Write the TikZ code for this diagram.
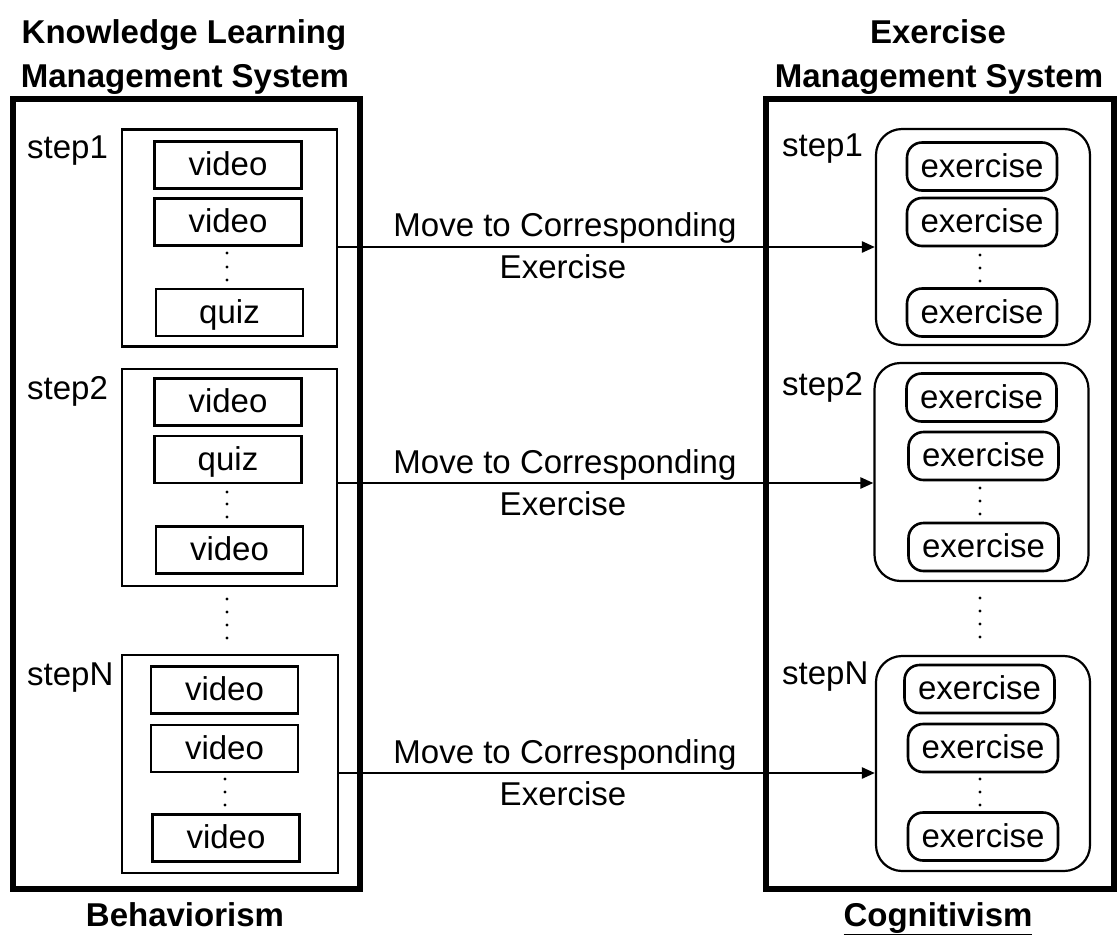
\documentclass[tikz,border=0pt]{standalone}
\usepackage{fontspec}
\setmainfont{Liberation Sans}
\usetikzlibrary{arrows.meta}
\begin{document}
\begin{tikzpicture}[x=1pt,y=-1pt,
  every node/.style={font=\fontsize{33}{40}\selectfont, inner sep=0pt},
  txt/.style={anchor=base},
  ttl/.style={anchor=base, font=\fontsize{33}{40}\selectfont\bfseries},
  outerbox/.style={draw, line width=6pt},
  stepbox/.style={draw, line width=2.2pt, minimum width=215pt, minimum height=217pt},
  rstepbox/.style={draw, line width=2.2pt, rounded corners=26pt, minimum width=214pt, minimum height=216pt},
  item/.style={draw, line width=2.8pt, minimum width=147pt, minimum height=47pt, text height=27pt, text depth=6pt},
  ritem/.style={draw, line width=2.6pt, rounded corners=15pt, minimum width=150pt, minimum height=48pt, text height=27pt, text depth=6pt},
  arr/.style={line width=2.4pt, -{Triangle[length=13pt,width=11pt]}}
]
\useasboundingbox (0,0) rectangle (1118,943);

% titles
\node[ttl] (t1) at (184,43) {Knowledge Learning};
\node[ttl] (t2) at (185,87) {Management System};
\node[ttl] (t3) at (938,43) {Exercise};
\node[ttl] (t4) at (939,87) {Management System};

% outer boxes
\node[outerbox, minimum width=347.5pt, minimum height=790pt] (L) at (186.25,494) {};
\node[outerbox, minimum width=348pt, minimum height=790pt] (R) at (940,494) {};

% left step labels
\node[txt, anchor=base west] (ls1) at (27,158) {step1};
\node[txt, anchor=base west] (ls2) at (27,399) {step2};
\node[txt, anchor=base west] (lsn) at (27,685) {stepN};

% left step boxes
\node[stepbox] (S1) at (229.5,238) {};
\node[stepbox] (S2) at (229.5,477.5) {};
\node[stepbox, minimum width=216pt, minimum height=218pt] (SN) at (230,764) {};

\node[item] (s1a) at (228,165) {video};
\node[item] (s1b) at (228,222) {video};
\node[item] (s1c) at (229.5,312.5) {quiz};
\foreach \y in {253,267,280} \fill (227,\y) circle (1.6pt);

\node[item] (s2a) at (228,402) {video};
\node[item] (s2b) at (228,459.5) {quiz};
\node[item] (s2c) at (229.5,550) {video};
\foreach \y in {492,504,517} \fill (227,\y) circle (1.6pt);

\foreach \y in {599,612,625,638} \fill (227,\y) circle (1.6pt);

\node[item] (sna) at (224.5,690) {video};
\node[item] (snb) at (224.5,748.5) {video};
\node[item] (snc) at (226,838) {video};
\foreach \y in {779,792,805} \fill (225,\y) circle (1.6pt);

% right step labels
\node[txt, anchor=base west] (rs1) at (782,156) {step1};
\node[txt, anchor=base west] (rs2) at (782,395) {step2};
\node[txt, anchor=base west] (rsn) at (782,684) {stepN};

% right step boxes
\node[rstepbox] (R1) at (983,237) {};
\node[rstepbox, minimum height=218pt] (R2) at (981.5,472) {};
\node[rstepbox, minimum height=215pt] (RN) at (983,763.5) {};

\node[ritem] (r1a) at (982,166.5) {exercise};
\node[ritem] (r1b) at (982,222) {exercise};
\node[ritem] (r1c) at (982,312.5) {exercise};
\foreach \y in {255,268,281} \fill (980,\y) circle (1.6pt);

\node[ritem] (r2a) at (981.5,397.5) {exercise};
\node[ritem] (r2b) at (983.5,456) {exercise};
\node[ritem] (r2c) at (983.5,547) {exercise};
\foreach \y in {488,501,514} \fill (980,\y) circle (1.6pt);

\foreach \y in {598,611,624,637} \fill (980,\y) circle (1.6pt);

\node[ritem] (rna) at (979.5,689) {exercise};
\node[ritem] (rnb) at (983,748) {exercise};
\node[ritem] (rnc) at (983,836.5) {exercise};
\foreach \y in {779,792,805} \fill (980,\y) circle (1.6pt);

% arrows
\draw[arr] ([yshift=-9pt]S1.east) -- ([yshift=-10pt]R1.west);
\draw[arr] ([yshift=-5.5pt]S2.east) -- ([yshift=-11pt]R2.west);
\draw[arr] ([yshift=-9pt]SN.east) -- ([yshift=-9.5pt]RN.west);

\node[txt] (m1a) at (565,236) {Move to Corresponding};
\node[txt] (m1b) at (563,278) {Exercise};
\node[txt] (m2a) at (565,473) {Move to Corresponding};
\node[txt] (m2b) at (563,515) {Exercise};
\node[txt] (m3a) at (565,763) {Move to Corresponding};
\node[txt] (m3b) at (563,805) {Exercise};

% bottom labels
\node[ttl] (b1) at (185,926) {Behaviorism};
\node[ttl] (b2) at (938,926) {\underline{Cognitivism}};
\end{tikzpicture}
\end{document}
